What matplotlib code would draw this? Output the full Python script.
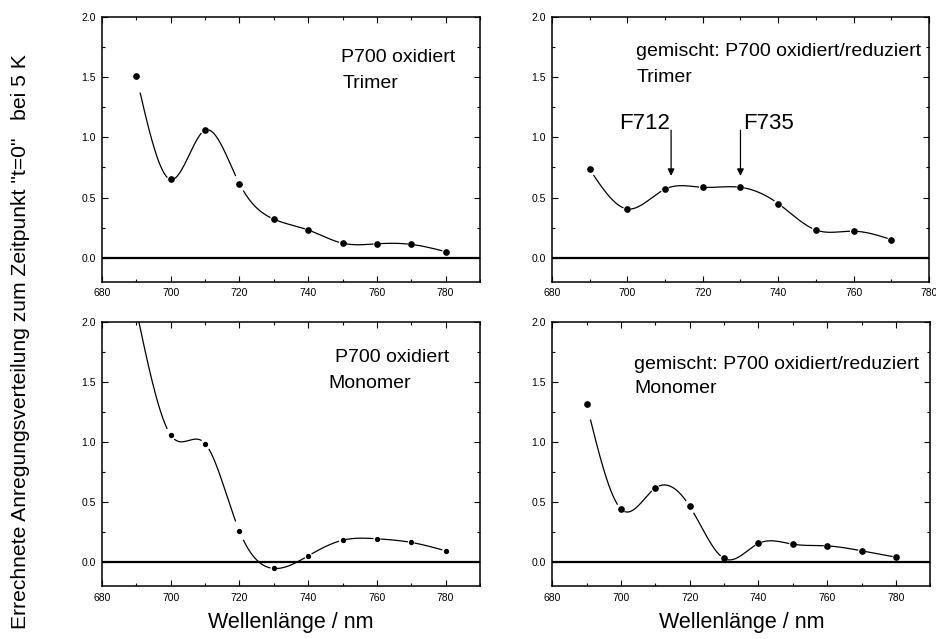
import matplotlib
matplotlib.use("Agg")
import matplotlib.pyplot as plt
from matplotlib.ticker import MultipleLocator, FormatStrFormatter
import numpy as np

plt.rcParams['font.family'] = ['Liberation Sans', 'DejaVu Sans']

# Data
wl = [690, 700, 710, 720, 730, 740, 750, 760, 770, 780]
wl_mix_tri = [690, 700, 710, 720, 730, 740, 750, 760, 770]

ox_trimer = [1.51, 0.65, 1.06, 0.615, 0.32, 0.23, 0.12, 0.115, 0.11, 0.05]
mix_trimer = [0.735, 0.405, 0.57, 0.585, 0.585, 0.45, 0.23, 0.22, 0.15]
ox_monomer = [2.1, 1.06, 0.99, 0.26, -0.05, 0.055, 0.185, 0.197, 0.167, 0.097]
mix_monomer = [1.317, 0.444, 0.62, 0.467, 0.033, 0.158, 0.152, 0.138, 0.097, 0.044]

ylabel = 'Errechnete Anregungsverteilung zum Zeitpunkt "t=0"   bei 5 K'
xlabel = 'Wellenlänge / nm'


def natural_spline(x, y, xs):
    # plain natural cubic spline, no scipy here
    x = np.asarray(x, float)
    y = np.asarray(y, float)
    n = len(x)
    h = np.diff(x)
    A = np.zeros((n, n))
    b = np.zeros(n)
    A[0, 0] = A[-1, -1] = 1
    for i in range(1, n - 1):
        A[i, i - 1] = h[i - 1]
        A[i, i] = 2 * (h[i - 1] + h[i])
        A[i, i + 1] = h[i]
        b[i] = 3 * ((y[i + 1] - y[i]) / h[i] - (y[i] - y[i - 1]) / h[i - 1])
    c = np.linalg.solve(A, b)
    idx = np.clip(np.searchsorted(x, xs) - 1, 0, n - 2)
    dx = xs - x[idx]
    bb = (y[idx + 1] - y[idx]) / h[idx] - h[idx] * (2 * c[idx] + c[idx + 1]) / 3
    d = (c[idx + 1] - c[idx]) / (3 * h[idx])
    return y[idx] + bb * dx + c[idx] * dx ** 2 + d * dx ** 3


def panel(rect, x, y, xmax, texts, msize):
    ax = fig.add_axes(rect)
    xs = np.linspace(x[0], x[-1], 800)
    ys = natural_spline(x, y, xs)
    # Origin-style gaps next to the symbols
    for xi, yi in zip(x, y):
        if yi <= 2.0:
            ys[np.abs(xs - xi) < 1.1] = np.nan
    ax.plot(xs, ys, color='black', lw=0.9)
    ax.plot(x, y, 'o', color='black', ms=msize, mec='black')
    ax.axhline(0, color='black', lw=1.6)
    ax.set_xlim(680, xmax)
    ax.set_ylim(-0.2, 2.0)
    ax.xaxis.set_major_locator(MultipleLocator(20))
    ax.xaxis.set_minor_locator(MultipleLocator(10))
    ax.yaxis.set_major_locator(MultipleLocator(0.5))
    ax.yaxis.set_minor_locator(MultipleLocator(0.25))
    ax.yaxis.set_major_formatter(FormatStrFormatter('%.1f'))
    ax.tick_params(which='both', direction='in', top=True, right=True,
                   labelsize=7.5, width=0.8)
    ax.tick_params(which='major', length=4, pad=4.5)
    ax.tick_params(which='minor', length=2.5)
    for s in ax.spines.values():
        s.set_linewidth(1.1)
    for tx, ty, t in texts:
        ax.text(tx, ty, t, fontsize=14, va='baseline', ha='left')
    return ax


fig = plt.figure(figsize=(9.36, 6.39), dpi=100)

panel([0.1090, 0.5592, 0.4038, 0.4139], wl, ox_trimer, 790,
      [(749.6, 1.63, 'P700 oxidiert'), (750.1, 1.41, 'Trimer')], 3.8)
ax_tr = panel([0.5897, 0.5592, 0.4028, 0.4139], wl_mix_tri, mix_trimer, 780,
              [(702.3, 1.675, 'gemischt: P700 oxidiert/reduziert'),
               (702.5, 1.46, 'Trimer')], 3.8)
panel([0.1090, 0.0822, 0.4038, 0.4135], wl, ox_monomer, 790,
      [(747.7, 1.67, 'P700 oxidiert'), (746.0, 1.45, 'Monomer')], 2.8)
panel([0.5901, 0.0822, 0.4038, 0.4135], wl, mix_monomer, 790,
      [(703.8, 1.61, 'gemischt: P700 oxidiert/reduziert'),
       (703.8, 1.41, 'Monomer')], 3.8)

# F712 / F735 arrows
for xa, lab, ha, dx in [(711.6, 'F712', 'right', -0.4), (730.0, 'F735', 'left', 0.8)]:
    ax_tr.annotate('', xy=(xa, 0.68), xytext=(xa, 1.06),
                   arrowprops=dict(arrowstyle='-|>', color='black', lw=0.9,
                                   mutation_scale=10, shrinkA=0, shrinkB=0))
    ax_tr.text(xa + dx, 1.07, lab, fontsize=16, ha=ha, va='baseline')

fig.text(0.311, 0.017, xlabel, fontsize=15.5, ha='center', va='baseline')
fig.text(0.792, 0.017, xlabel, fontsize=15.5, ha='center', va='baseline')
fig.text(0.0217, 0.466, ylabel, fontsize=15.2, rotation=90, ha='center', va='center')

fig.savefig('out.png', dpi=100)
